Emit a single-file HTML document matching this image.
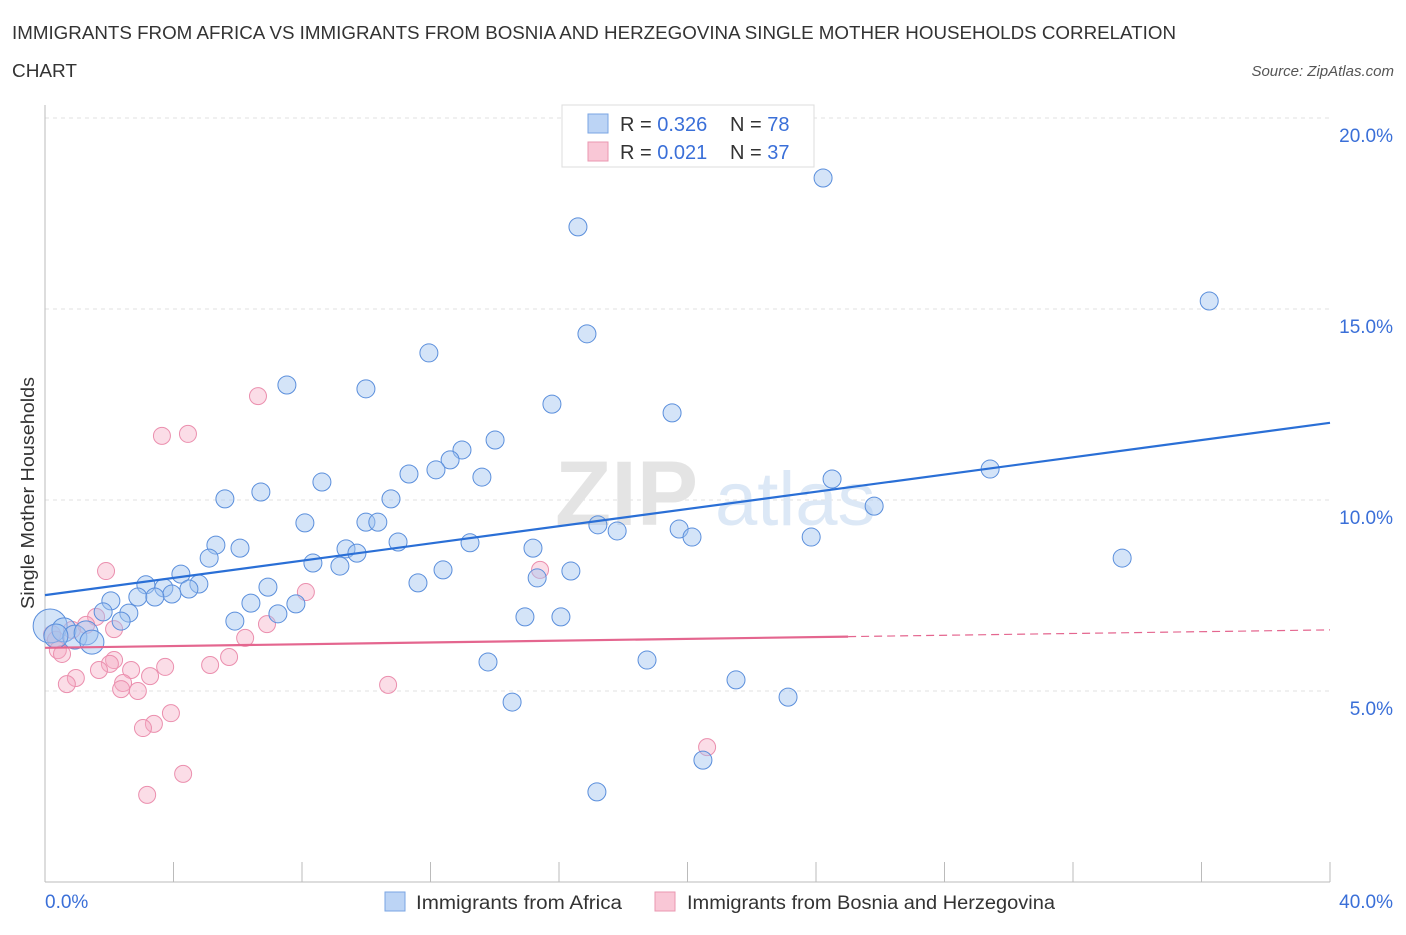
<!DOCTYPE html>
<html><head><meta charset="utf-8"><style>
body{margin:0;background:#fff;font-family:"Liberation Sans",sans-serif;}
svg text{font-family:"Liberation Sans",sans-serif;}
</style></head><body>
<svg id="chart" width="1406" height="930" viewBox="0 0 1406 930" xmlns="http://www.w3.org/2000/svg">
<text x="12" y="39" font-size="18.5" fill="#333" textLength="1164" lengthAdjust="spacingAndGlyphs">IMMIGRANTS FROM AFRICA VS IMMIGRANTS FROM BOSNIA AND HERZEGOVINA SINGLE MOTHER HOUSEHOLDS CORRELATION</text>
<text x="12" y="77" font-size="18.5" fill="#333" textLength="65" lengthAdjust="spacingAndGlyphs">CHART</text>
<text x="1394" y="76" font-size="15" fill="#555" font-style="italic" text-anchor="end">Source: ZipAtlas.com</text>
<g id="grid"></g>
<text x="555" y="525" font-size="92" fill="#e4e4e4" font-family="Liberation Serif" font-weight="bold">ZIP</text>
<text x="715" y="525" font-size="76" fill="#dce8f6">atlas</text>
<g id="axes"></g>
<g id="pink"></g>
<g id="blue"></g>
<g id="trends"></g>
<text transform="translate(34,493) rotate(-90)" font-size="18" fill="#333" text-anchor="middle" textLength="232" lengthAdjust="spacingAndGlyphs">Single Mother Households</text>
<g>
<rect x="562" y="105" width="252" height="62" fill="#fff" stroke="#ddd"/>
<rect x="588" y="114" width="20" height="19" fill="#bcd4f5" stroke="#7aa5e3"/>
<text x="620" y="131" font-size="20" fill="#333">R = <tspan fill="#3a6fd8">0.326</tspan></text>
<text x="730" y="131" font-size="20" fill="#333">N = <tspan fill="#3a6fd8">78</tspan></text>
<rect x="588" y="142" width="20" height="19" fill="#f9c7d6" stroke="#ea97b0"/>
<text x="620" y="159" font-size="20" fill="#333">R = <tspan fill="#3a6fd8">0.021</tspan></text>
<text x="730" y="159" font-size="20" fill="#333">N = <tspan fill="#3a6fd8">37</tspan></text>
</g>
<g>
<rect x="385" y="892" width="20" height="19" fill="#bcd4f5" stroke="#7aa5e3"/>
<text x="416" y="909" font-size="19" fill="#333" textLength="206" lengthAdjust="spacingAndGlyphs">Immigrants from Africa</text>
<rect x="655" y="892" width="20" height="19" fill="#f9c7d6" stroke="#ea97b0"/>
<text x="687" y="909" font-size="19" fill="#333" textLength="368" lengthAdjust="spacingAndGlyphs">Immigrants from Bosnia and Herzegovina</text>
</g>
</svg>
<script>
const xTicks=[0,40];
const yTicks=[5,10,15,20];
const blueX=[24.22,16.59,36.24,16.87,11.95,7.53,9.99,15.78,19.52,14.01,12.98,12.61,12.17,11.33,13.60,29.42,8.62,24.50,6.72,5.60,10.77,25.81,8.09,9.99,10.36,17.21,17.81,19.74,20.14,23.85,10.99,13.23,5.32,6.07,9.37,9.71,15.19,5.11,33.53,8.34,9.18,12.39,16.37,15.32,4.23,11.61,3.14,3.70,4.79,4.48,6.94,3.95,2.89,3.42,2.05,6.41,7.81,1.81,2.61,7.25,5.91,2.37,14.94,16.06,0.16,0.59,0.93,1.28,1.46,0.34,13.79,18.74,21.51,23.13,14.54,20.48,17.18];
const blueY=[18.43,17.15,15.21,14.35,13.85,13.01,12.91,12.51,12.28,11.57,11.31,11.05,10.79,10.68,10.60,10.81,10.47,10.55,10.21,10.03,10.03,9.84,9.40,9.42,9.42,9.35,9.19,9.24,9.03,9.03,8.90,8.88,8.82,8.74,8.72,8.61,8.74,8.48,8.48,8.35,8.27,8.17,8.14,7.96,8.06,7.83,7.78,7.70,7.80,7.67,7.72,7.54,7.46,7.46,7.36,7.30,7.28,7.07,7.04,7.02,6.83,6.83,6.94,6.94,6.70,6.60,6.41,6.52,6.28,6.44,5.76,5.81,5.29,4.84,4.71,3.19,2.36];
const pinkX=[6.63,3.64,4.45,1.90,15.41,8.12,1.59,6.91,1.28,2.15,0.22,0.34,0.84,6.23,0.40,0.53,2.15,2.02,5.73,1.68,2.68,3.74,5.14,3.27,0.96,2.43,0.68,2.37,2.89,10.68,3.92,3.39,3.05,4.30,20.61,3.18];
const pinkY=[12.72,11.68,11.73,8.14,8.17,7.59,6.94,6.75,6.73,6.62,6.49,6.34,6.60,6.39,6.07,5.97,5.81,5.71,5.89,5.55,5.55,5.63,5.68,5.39,5.34,5.21,5.18,5.05,5.00,5.16,4.42,4.14,4.03,2.83,3.53,2.28];
const blueTrend=[7.51,12.02];
const pinkTrend=[6.13,6.60];
const pinkSolidEnd=25;
const NS='http://www.w3.org/2000/svg';
const X=v=>45+v/40*1285, Y=v=>882-v/5*191;
function mk(tag,attrs,parent){const e=document.createElementNS(NS,tag);for(const k in attrs)e.setAttribute(k,attrs[k]);parent.appendChild(e);return e;}
const grid=document.getElementById('grid'),axes=document.getElementById('axes');
yTicks.forEach(t=>{const l=mk('line',{x1:45,x2:1330,y1:Y(t),y2:Y(t),stroke:'#e2e2e2','stroke-dasharray':'4 4'},grid);

const tx=mk('text',{x:1393,y:Y(t)+24,'font-size':19,fill:'#3a6fd8','text-anchor':'end'},axes);tx.textContent=t.toFixed(1)+'%';
});
const ax=mk('line',{x1:45,x2:1330,y1:882,y2:882,stroke:'#bbb'},axes);
const ay=mk('line',{x1:45,x2:45,y1:105,y2:882,stroke:'#bbb'},axes);
for(let i=0;i<=10;i++){const tk=mk('line',{x1:X(i*4),x2:X(i*4),y1:862,y2:882,stroke:'#bbb'},axes);}
xTicks.forEach((t,i)=>{const tx=mk('text',{x:i?1393:45,y:908,'font-size':19,fill:'#3a6fd8','text-anchor':i?'end':'start'},axes);tx.textContent=t.toFixed(1)+'%';
});
const pg=document.getElementById('pink');
pinkX.forEach((v,i)=>{const c=mk('circle',{cx:X(v),cy:Y(pinkY[i]),r:8.5,fill:'rgba(246,170,195,0.4)',stroke:'#eb8fae','stroke-width':1},pg);
});
const bg=document.getElementById('blue');
blueX.forEach((v,i)=>{const r=i==64?17:(i>=65&&i<=69?12:9);const c=mk('circle',{cx:X(v),cy:Y(blueY[i]),r:r,fill:'rgba(160,195,240,0.45)',stroke:'#5b8fdc','stroke-width':1},bg);
});
const tg=document.getElementById('trends');
const bl=mk('line',{x1:X(0),y1:Y(blueTrend[0]),x2:X(40),y2:Y(blueTrend[1]),stroke:'#2a6fd6','stroke-width':2.2},tg);

const pm=pinkTrend[0]+(pinkTrend[1]-pinkTrend[0])*pinkSolidEnd/40;
const pl=mk('line',{x1:X(0),y1:Y(pinkTrend[0]),x2:X(pinkSolidEnd),y2:Y(pm),stroke:'#e4668f','stroke-width':2.2},tg);

const pd=mk('line',{x1:X(pinkSolidEnd),y1:Y(pm),x2:X(40),y2:Y(pinkTrend[1]),stroke:'#e4668f','stroke-width':1.2,'stroke-dasharray':'8 5'},tg);

</script>
</body></html>
